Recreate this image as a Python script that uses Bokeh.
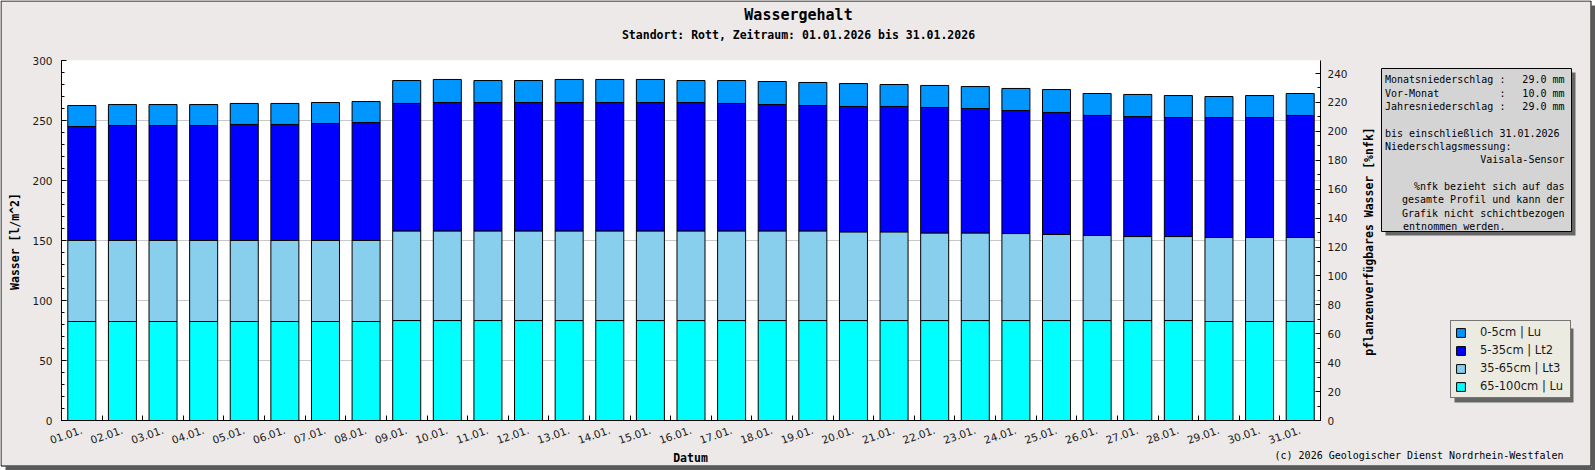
from math import pi
from bokeh.plotting import figure
from bokeh.models import (Range1d, LinearAxis, FixedTicker, SingleIntervalTicker, Label,
                          BoxAnnotation, Legend, LegendItem, GridBox, GlobalInlineStyleSheet)
from bokeh.embed import file_html
from bokeh.resources import INLINE

# ---------------- data ----------------
days = ["01.01.", "02.01.", "03.01.", "04.01.", "05.01.", "06.01.", "07.01.", "08.01.",
        "09.01.", "10.01.", "11.01.", "12.01.", "13.01.", "14.01.", "15.01.", "16.01.",
        "17.01.", "18.01.", "19.01.", "20.01.", "21.01.", "22.01.", "23.01.", "24.01.",
        "25.01.", "26.01.", "27.01.", "28.01.", "29.01.", "30.01.", "31.01."]

# cumulative upper edge of each soil layer [l/m^2]
top_65_100 = [82.5, 82.5, 82.5, 82.5, 82.5, 82.5, 82.5, 82.5, 83.3, 83.3, 83.3, 83.3,
              83.3, 83.3, 83.3, 83.3, 83.3, 83.3, 83.3, 83.3, 83.3, 83.3, 83.3, 83.3,
              83.3, 83.3, 83.3, 83.3, 82.5, 82.5, 82.5]
top_35_65 = [150.0, 150.0, 150.0, 150.0, 150.0, 150.0, 150.0, 150.0, 158.0, 158.0, 158.0,
             158.0, 158.0, 158.0, 158.0, 158.0, 158.0, 158.0, 158.0, 157.2, 157.2, 156.3,
             156.3, 155.8, 155.0, 154.2, 153.3, 153.3, 152.5, 152.5, 152.5]
top_5_35 = [245.0, 245.8, 245.8, 245.8, 246.7, 246.7, 247.5, 248.3, 264.2, 265.0, 265.0,
            265.0, 265.0, 265.0, 265.0, 265.0, 264.2, 263.3, 262.5, 261.7, 261.7, 260.8,
            260.0, 258.3, 256.7, 254.2, 253.3, 252.5, 252.5, 252.5, 254.2]
top_0_5 = [262.5, 263.3, 263.3, 263.3, 264.2, 264.2, 265.0, 265.8, 283.3, 284.2, 283.3,
           283.3, 284.2, 284.2, 284.2, 283.3, 283.3, 282.5, 281.7, 280.8, 280.0, 279.2,
           278.3, 276.7, 275.8, 272.5, 271.7, 270.8, 270.0, 270.8, 272.5]

layer_names = ["0-5cm | Lu", "5-35cm | Lt2", "35-65cm | Lt3", "65-100cm | Lu"]
layer_colors = ["#0096ff", "#0000ff", "#88cfee", "#00ffff"]

y_left = (0, 300, 50)
y_right = (0, 249, 20)

title = "Wassergehalt"
subtitle = "Standort: Rott, Zeitraum: 01.01.2026 bis 31.01.2026"
xlabel = "Datum"
ylabel_left = "Wasser [l/m^2]"
ylabel_right = "pflanzenverfügbares Wasser [%nfk]"
copyright_txt = "(c) 2026 Geologischer Dienst Nordrhein-Westfalen"

info_rows = [
    (79.3, [("Monatsniederschlag :", 0, "left"), ("29.0 mm", None, "right")]),
    (92.7, [("Vor-Monat", 0, "left"), (":", 19, "left"), ("10.0 mm", None, "right")]),
    (106.0, [("Jahresniederschlag :", 0, "left"), ("29.0 mm", None, "right")]),
    (132.7, [("bis einschließlich 31.01.2026", 0, "left")]),
    (146.0, [("Niederschlagsmessung:", 0, "left")]),
    (159.3, [("Vaisala-Sensor", None, "right")]),
    (186.0, [("%nfk bezieht sich auf das", None, "right")]),
    (199.3, [("gesamte Profil und kann der", None, "right")]),
    (212.7, [("Grafik nicht schichtbezogen", None, "right")]),
    (226.0, [("entnommen werden.", 3, "left")]),
]

# ---------------- geometry ----------------
W, H = 1595, 470
FL, FR, FT, FB = 61, 1320, 60, 420   # plot frame in canvas px
BG = "#ece9e8"
MONO = "DejaVu Sans Mono"
SANS = "DejaVu Sans"
TXT = "#1a1a1a"


def no_frame_align(fig):
    try:
        fig.frame_align = False
    except AttributeError:
        pass


# ---------------- main chart ----------------
p = figure(width=W, height=H, output_backend="svg", toolbar_location=None,
           x_range=Range1d(0, len(days)), y_range=Range1d(y_left[0], y_left[1]),
           min_border_left=FL, min_border_right=W - FR, min_border_top=FT,
           min_border_bottom=H - FB, background_fill_color="white",
           border_fill_color=BG, outline_line_color=None)
no_frame_align(p)

xs = [i + 0.5 for i in range(len(days))]
bottoms = [[0] * len(days), top_65_100, top_35_65, top_5_35]
tops = [top_65_100, top_35_65, top_5_35, top_0_5]
for b, t, c in zip(bottoms, tops, layer_colors[::-1]):
    p.vbar(x=xs, width=0.69, bottom=b, top=t, fill_color=c, line_color="#000000",
           line_width=1)

xa = p.xaxis[0]
xa.ticker = FixedTicker(ticks=xs, minor_ticks=list(range(len(days) + 1)))
xa.major_label_overrides = {x: d for x, d in zip(xs, days)}
xa.major_tick_in = 0
xa.major_tick_out = 0
xa.minor_tick_in = 5
xa.minor_tick_out = 0
xa.major_label_orientation = 0.33
xa.major_label_standoff = 9
xa.major_label_text_font = SANS
xa.major_label_text_font_size = "10.5px"
xa.major_label_text_color = TXT
xa.axis_line_color = "black"
xa.minor_tick_line_color = "black"

ya = p.yaxis[0]
ya.ticker = SingleIntervalTicker(interval=y_left[2], num_minor_ticks=5)
ya.major_tick_in = 5
ya.major_tick_out = 0
ya.minor_tick_in = 3
ya.minor_tick_out = 0
ya.major_label_standoff = 9
ya.major_label_text_font = SANS
ya.major_label_text_font_size = "10.5px"
ya.major_label_text_color = TXT
ya.axis_line_color = "black"
ya.major_tick_line_color = "black"
ya.minor_tick_line_color = "black"

p.extra_y_ranges = {"nfk": Range1d(y_right[0], y_right[1])}
ra = LinearAxis(y_range_name="nfk",
                ticker=SingleIntervalTicker(interval=y_right[2], num_minor_ticks=2),
                major_tick_in=5, major_tick_out=0, minor_tick_in=3, minor_tick_out=0,
                major_label_standoff=7, major_label_text_font=SANS,
                major_label_text_font_size="10.5px", major_label_text_color=TXT,
                axis_line_color="black", major_tick_line_color="black",
                minor_tick_line_color="black")
p.add_layout(ra, "right")

p.xgrid.visible = False
p.ygrid.ticker = ya.ticker
p.ygrid.grid_line_color = "#c8c8c8"

# ---------------- overlay (texts, boxes, legend) ----------------
ov = figure(width=W, height=H, output_backend="svg", toolbar_location=None,
            x_range=Range1d(0, W), y_range=Range1d(0, H),
            x_axis_type=None, y_axis_type=None,
            min_border_left=0, min_border_right=0, min_border_top=0, min_border_bottom=0,
            background_fill_alpha=0, border_fill_alpha=0, outline_line_color=None)
no_frame_align(ov)


def fy(Y):
    return H - Y


def add_label(text, X, Y, size, bold=False, align="center", angle=0, font=MONO):
    ov.add_layout(Label(x=X, y=fy(Y), text=text, text_font=font, text_font_size=size,
                        text_font_style="bold" if bold else "normal",
                        text_align=align, text_baseline="middle", angle=angle,
                        text_color="#000000"))


def add_box(l, t, r, b, fill, line=None, fill_alpha=1.0):
    ov.add_layout(BoxAnnotation(left=l, right=r, top=fy(t), bottom=fy(b),
                                fill_color=fill, fill_alpha=fill_alpha,
                                line_color=line if line else "black",
                                line_alpha=1.0 if line else 0.0, line_width=1))


# outer frame with drop shadow
add_box(1590.5, 0, W, H, "white")
add_box(0, 465.5, W, H, "white")
add_box(1591, 5, 1595, H, "#5a5a5a")
add_box(5, 466, W, H, "#5a5a5a")
add_box(0.5, 0.5, 1590.5, 465.5, "white", line="#000000", fill_alpha=0.0)

add_label(title, 798, 14, "15px", bold=True)
add_label(subtitle, 798, 34, "11.5px", bold=True)
add_label(xlabel, 690, 457, "11.5px", bold=True)
add_label(ylabel_left, 14, 241, "11.5px", bold=True, angle=pi / 2)
add_label(ylabel_right, 1368, 241, "11.5px", bold=True, angle=pi / 2)
add_label(copyright_txt, 1563, 455, "10px", align="right")

# info box
add_box(1385, 72, 1575, 235, "#666666")
add_box(1381, 68, 1571, 231, "#d4d4d4", line="#000000")
IX0, IX1, CW = 1384.5, 1564, 6.02
for yy, parts in info_rows:
    for txt, col, al in parts:
        X = IX1 if al == "right" else IX0 + col * CW
        add_label(txt, X, yy, "10px", align=al)

# legend (keys drawn from hidden copies of the layer series)
add_box(1454, 328, 1573, 402, "#666666")
keys = []
for b, t, c in zip(bottoms[::-1], tops[::-1], layer_colors):
    keys.append(ov.vbar(x=xs, width=0.69, bottom=b, top=t, fill_color=c,
                        line_color="#000000", visible=False))
legend = Legend(items=[LegendItem(label=n, renderers=[r]) for n, r in zip(layer_names, keys)],
                location=(1450, fy(398)), orientation="vertical",
                background_fill_color="#ecebe2", background_fill_alpha=1.0,
                border_line_color="#000000", border_line_width=1,
                inactive_fill_alpha=0.0,
                padding=4, spacing=4, margin=0, glyph_width=11, glyph_height=11,
                label_height=14, label_width=86, label_standoff=14,
                label_text_font=SANS, label_text_font_size="11.5px",
                label_text_color=TXT)
ov.add_layout(legend)

root = GridBox(children=[(p, 0, 0), (ov, 0, 0)], spacing=0)
root.stylesheets = [GlobalInlineStyleSheet(css="html, body {margin: 0; padding: 0; overflow: hidden;}")]

open("out.html", "w").write(file_html(root, INLINE))
